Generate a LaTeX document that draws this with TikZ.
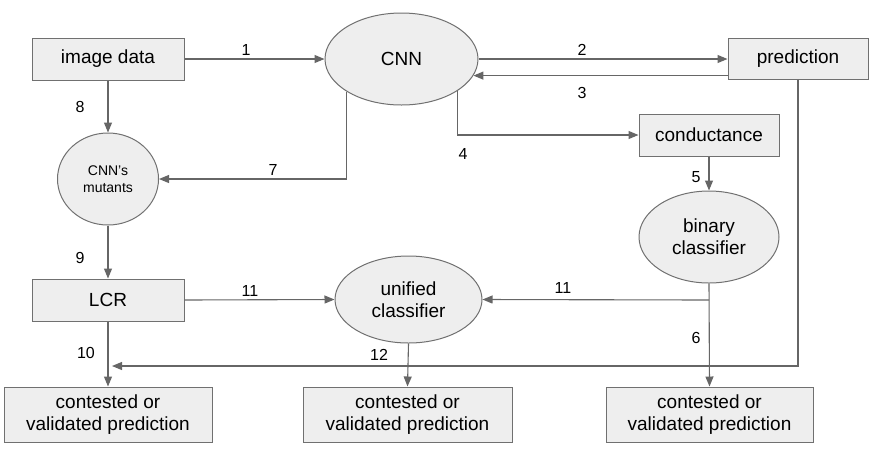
\documentclass[tikz,border=0pt]{standalone}
\usepackage{fontspec}
\setmainfont{Liberation Sans}
\usetikzlibrary{shapes.geometric,arrows.meta}
\definecolor{boxfill}{HTML}{EEEEEE}
\definecolor{edgecol}{HTML}{707070}
\definecolor{wirecol}{HTML}{666666}
\tikzset{
 box/.style={draw=edgecol, fill=boxfill, line width=1pt, inner sep=0pt, align=center, font=\fontsize{19}{22}\selectfont},
 oval/.style={ellipse, draw=edgecol, fill=boxfill, line width=1pt, inner sep=0pt, align=center, font=\fontsize{19}{22}\selectfont},
 wire/.style={draw=wirecol, line width=1.1pt},
 arr/.style={wire, -{Triangle[length=10pt,width=8pt]}},
 num/.style={font=\fontsize{16}{18}\selectfont, inner sep=0pt}
}
\begin{document}
\begin{tikzpicture}[x=1pt,y=-1pt]
\useasboundingbox (0,0) rectangle (872,451);
% nodes
\node[box, minimum width=152pt, minimum height=42pt] (img) at (108,59) {image data};
\node[oval, minimum width=153pt, minimum height=92pt] (cnn) at (401.5,59) {CNN};
\node[box, minimum width=140pt, minimum height=41pt] (pred) at (798,58.5) {prediction};
\node[box, minimum width=140pt, minimum height=42pt] (cond) at (709,135) {conductance};
\node[oval, minimum width=140pt, minimum height=92pt] (bin) at (709,237) {binary\\classifier};
\node[oval, minimum width=101pt, minimum height=92pt, font=\fontsize{14}{17}\selectfont] (mut) at (108,179) {CNN’s\\mutants};
\node[box, minimum width=152pt, minimum height=42pt] (lcr) at (108,300) {LCR};
\node[oval, minimum width=147pt, minimum height=87pt] (uni) at (408.5,299.5) {unified\\classifier};
\node[box, minimum width=208pt, minimum height=55pt] (out1) at (108,414.5) {contested or\\validated prediction};
\node[box, minimum width=209pt, minimum height=55pt] (out2) at (407.5,414.5) {contested or\\validated prediction};
\node[box, minimum width=207pt, minimum height=55pt] (out3) at (709.5,414.5) {contested or\\validated prediction};
\coordinate (j10) at (112,366);
\coordinate (j11) at (709,300);
% connectors
\draw[arr] (img.east) -- (cnn.west);
\draw[arr] (cnn.east) -- (cnn.east -| pred.west);
\draw[arr] (pred.west |- cnn.-13.5) -- (cnn.-13.5);
\draw[arr] (cnn.-30) |- (cond.west);
\draw[arr] (cond.south) -- (bin.north);
\draw[arr] (bin.south) -- (out3.north);
\draw[arr] (j11) -- (uni.east);
\draw[arr] (cnn.-149) |- (mut.east);
\draw[arr] (img.south) -- (mut.north);
\draw[arr] (mut.south) -- (lcr.north);
\draw[arr] (lcr.east) -- (uni.west);
\draw[arr] (lcr.south) -- (out1.north);
\draw[arr] (uni.south) -- (out2.north);
\draw[arr] (pred.south) |- (j10);
% labels
\node[num] (l1) at (246,50) {1};
\node[num] (l2) at (582,50) {2};
\node[num] (l3) at (582,93) {3};
\node[num] (l4) at (463,154) {4};
\node[num] (l5) at (696,177) {5};
\node[num] (l6) at (696,338) {6};
\node[num] (l7) at (273,170) {7};
\node[num] (l8) at (80,107) {8};
\node[num] (l9) at (80,258) {9};
\node[num] (l10) at (86,353) {10};
\node[num] (l11a) at (250,291) {11};
\node[num] (l11b) at (563,288) {11};
\node[num] (l12) at (379,355) {12};
\end{tikzpicture}
\end{document}
